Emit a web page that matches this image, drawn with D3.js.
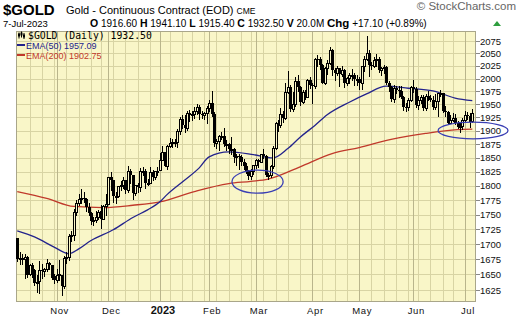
<!DOCTYPE html>
<html>
<head>
<meta charset="utf-8">
<script src="https://cdn.jsdelivr.net/npm/d3@7"></script>
<style>
  body { margin: 0; background: #fff; }
  svg { display: block; font-family: "Liberation Sans", Arial, sans-serif; }
</style>
</head>
<body>
<div id="chart"></div>
<script>
// exchange holidays inside the window (no bars on these days)
const holidays = ["2022-11-24", "2022-12-26", "2023-01-02", "2023-01-16", "2023-02-20",
  "2023-04-07", "2023-05-29", "2023-06-19", "2023-07-04"];

// daily OHLC, 10-Oct-2022 .. 7-Jul-2023 (one line per month)
const opens = [
  1709,1675,1676,1675,1677,1650,1664,1656,1636,1638,1656,1655,1658,1668,1664,1646,
  1640,1649,1648,1630,1677,1677,1713,1715,1754,1769,1776,1778,1776,1762,1751,1738,1740,1745,1755,1741,1763,
  1768,1815,1809,1781,1781,1798,1800,1810,1792,1825,1818,1787,1800,1797,1825,1826,1804,1804,1823,1815,1826,
  1828,1846,1859,1834,1870,1876,1878,1878,1898,1921,1910,1904,1932,1928,1931,1936,1943,1930,1929,1932,
  1942,1951,1930,1876,1880,1889,1890,1874,1874,1866,1866,1850,1853,1850,1842,1834,1826,1817,1825,
  1836,1845,1842,1856,1853,1818,1819,1835,1867,1913,1910,1931,1923,1973,1982,1941,1949,1995,1983,1954,1973,1964,1997,
  1986,1985,2038,2037,2025,1990,2019,2029,2055,2015,2009,2019,2007,2015,1990,2000,2005,2006,1999,
  1999,1990,2023,2038,2050,2025,2024,2035,2037,2015,2019,2022,1990,1983,1959,1981,1976,1975,1963,1944,1943,1958,
  1982,1978,1948,1958,1964,1942,1965,1962,1957,1944,1955,1970,1971,1936,1934,1914,1919,1923,1914,1907,1908,
  1919,1929,1927,1916.6
];
const highs = [
  1710,1687,1684,1683,1680,1667,1669,1659,1649,1672,1667,1661,1675,1671,1665,1650,
  1659,1673,1649,1680,1687,1717,1722,1759,1775,1785,1795,1789,1778,1770,1754,1745,1756,1757,1767,1766,1786,
  1816,1825,1811,1789,1800,1808,1815,1811,1835,1830,1818,1802,1805,1832,1834,1830,1813,1833,1828,1827,1833,
  1859,1871,1861,1873,1887,1884,1885,1903,1925,1929,1930,1937,1939,1938,1945,1950,1949,1938,1936,1946,
  1959,1975,1935,1884,1893,1898,1905,1882,1878,1888,1869,1858,1857,1855,1848,1840,1828,1830,1837,
  1848,1848,1858,1867,1855,1823,1838,1871,1916,1921,1942,1937,1992,2014,1987,1974,2003,2006,1985,1978,1977,1999,2002,
  1992,2040,2047,2042,2028,2023,2036,2063,2058,2021,2025,2020,2025,2018,2003,2010,2018,2010,2006,
  2002,2025,2045,2085,2057,2032,2042,2048,2042,2023,2027,2025,1995,1985,1987,1985,1985,1985,1965,1953,1962,1985,
  1998,1983,1965,1968,1968,1969,1975,1967,1965,1970,1972,1978,1972,1947,1937,1930,1933,1932,1918,1915,1924,
  1938,1936,1934,1941.1
];
const lows = [
  1670,1666,1665,1642,1645,1648,1645,1631,1621,1618,1643,1646,1654,1658,1641,1635,
  1636,1640,1616,1627,1667,1672,1703,1705,1748,1765,1768,1770,1755,1747,1732,1730,1735,1740,1725,1741,1748,
  1767,1791,1770,1769,1779,1791,1794,1786,1787,1804,1776,1782,1787,1790,1817,1795,1800,1803,1809,1811,1818,
  1828,1845,1833,1828,1868,1868,1870,1868,1893,1903,1896,1900,1917,1919,1923,1930,1920,1922,1920,1913,
  1935,1925,1870,1866,1863,1882,1870,1862,1857,1855,1840,1836,1828,1835,1829,1821,1811,1810,1820,
  1830,1831,1840,1848,1815,1811,1814,1830,1865,1898,1905,1915,1921,1970,1935,1936,1945,1974,1946,1950,1958,1962,1979,
  1950,1980,2022,2016,1990,1988,2007,2027,2005,1996,2005,1983,2002,1981,1985,1990,1995,1985,1985,
  1977,1978,2012,2035,2003,2016,2020,2023,2010,2004,2008,1987,1974,1955,1953,1969,1962,1960,1938,1936,1937,1955,
  1971,1943,1940,1950,1938,1938,1957,1954,1939,1940,1925,1964,1934,1926,1912,1912,1917,1910,1903,1895,1902,
  1915,1920,1905,1915.4
];
const closes = [
  1675,1676,1673,1677,1648,1664,1656,1636,1637,1656,1655,1658,1668,1664,1644,1640,
  1649,1650,1630,1676,1677,1713,1714,1754,1769,1776,1778,1776,1762,1751,1738,1740,1745,1754,1741,1763,1768,
  1815,1809,1781,1781,1798,1800,1810,1792,1825,1818,1787,1800,1797,1825,1826,1804,1804,1823,1815,1826,1826,
  1846,1859,1834,1870,1876,1878,1878,1898,1921,1910,1904,1932,1928,1931,1936,1943,1930,1929,1932,1942,
  1951,1930,1876,1880,1889,1890,1874,1874,1866,1866,1850,1853,1850,1842,1834,1826,1817,1825,1836,
  1845,1842,1856,1853,1818,1819,1835,1867,1913,1910,1931,1923,1973,1982,1941,1949,1995,1983,1954,1973,1964,1997,1986,
  1985,2038,2037,2025,1990,2019,2029,2055,2015,2009,2019,2007,2015,1990,2000,2005,2006,1999,1999,
  1990,2023,2038,2050,2025,2024,2035,2037,2015,2019,2022,1990,1983,1959,1981,1976,1975,1963,1944,1943,1958,1982,
  1978,1948,1958,1964,1942,1965,1962,1957,1944,1955,1970,1971,1936,1934,1914,1919,1923,1914,1907,1908,1919,
  1929,1927,1915.4,1932.5
];
const volumeText = "20.0M";

// moving averages at these bar numbers
const ema50Bars = [0, 7, 15, 21, 25, 30, 39, 47, 53, 58, 61, 68, 74, 78, 86, 96, 104, 110, 115, 121, 126, 135, 142, 150, 159, 169, 178, 185];
const ema50Vals = [1722, 1712, 1695, 1684, 1692, 1706, 1724, 1745, 1758, 1772, 1785, 1810, 1832, 1852, 1861, 1856, 1850, 1867, 1888, 1910, 1930, 1954, 1970, 1985, 1981, 1976, 1962, 1957];
const ema200Bars = [0, 12, 23, 35, 47, 58, 72, 86, 95, 102, 115, 128, 139, 152, 166, 179, 185];
const ema200Vals = [1790, 1778, 1764, 1762, 1766, 1772, 1790, 1804, 1808, 1812, 1834, 1858, 1869, 1884, 1895, 1902, 1903];

// hand-drawn ellipses: centre bar, half width in bars, top / bottom price
const circleBars = [97.7, 185.3];
const circleHalfBars = [10.4, 14.2];
const circleTops = [1828, 1916];
const circleBottoms = [1787, 1885];

const yTicks = d3.range(1625, 2076, 25);
const monthNames = ["Nov", "Dec", "2023", "Feb", "Mar", "Apr", "May", "Jun", "Jul"];

const W = 520, H = 318;
const plot = { left: 16, right: 476, top: 31, bottom: 302 };
const bg = "#f9f6c8", grid = "#d8d4a4", gridMonth = "#b9b58c";

// trading days
const fmt = d3.timeFormat("%Y-%m-%d");
const days = [];
for (let d = new Date(2022, 9, 10); d <= new Date(2023, 6, 7); d.setDate(d.getDate() + 1)) {
  const wd = d.getDay();
  if (wd === 0 || wd === 6 || holidays.includes(fmt(d))) continue;
  days.push(new Date(d));
}
const n = Math.min(days.length, closes.length);
const bars = d3.range(n).map(i => ({ i, date: days[i], o: opens[i], h: highs[i], l: lows[i], c: closes[i] }));

const x = d3.scaleLinear().domain([-0.5, n + 0.5]).range([plot.left, plot.right]);
const y = d3.scaleLog().domain([1606, 2095.5]).range([plot.bottom, plot.top]);

const svg = d3.select("#chart").append("svg").attr("width", W).attr("height", H);

svg.append("rect").attr("x", plot.left).attr("y", plot.top)
  .attr("width", plot.right - plot.left).attr("height", plot.bottom - plot.top)
  .attr("fill", bg);

// week and month starts
const weekStarts = bars.filter((b, i) => i > 0 && d3.timeMonday.floor(b.date) > bars[i - 1].date);
const monthStarts = bars.filter((b, i) => i > 0 && b.date.getMonth() !== bars[i - 1].date.getMonth());

const gridG = svg.append("g").attr("shape-rendering", "crispEdges");
gridG.selectAll(".hg").data(yTicks).enter().append("line")
  .attr("x1", plot.left).attr("x2", plot.right)
  .attr("y1", d => Math.round(y(d)) + 0.5).attr("y2", d => Math.round(y(d)) + 0.5)
  .attr("stroke", grid);
gridG.selectAll(".wg").data(weekStarts).enter().append("line")
  .attr("x1", d => Math.round(x(d.i)) + 0.5).attr("x2", d => Math.round(x(d.i)) + 0.5)
  .attr("y1", plot.top).attr("y2", plot.bottom)
  .attr("stroke", grid);
gridG.selectAll(".mg").data(monthStarts).enter().append("line")
  .attr("x1", d => Math.round(x(d.i)) + 0.5).attr("x2", d => Math.round(x(d.i)) + 0.5)
  .attr("y1", plot.top).attr("y2", plot.bottom)
  .attr("stroke", gridMonth);

svg.append("rect").attr("x", plot.left + 0.5).attr("y", plot.top + 0.5)
  .attr("width", plot.right - plot.left - 1).attr("height", plot.bottom - plot.top - 1)
  .attr("fill", "none").attr("stroke", "#a9a68a").attr("shape-rendering", "crispEdges");

// y axis on the right
const yAxis = svg.append("g");
yAxis.selectAll("line").data(yTicks).enter().append("line")
  .attr("x1", plot.right).attr("x2", plot.right + 4)
  .attr("y1", d => Math.round(y(d)) + 0.5).attr("y2", d => Math.round(y(d)) + 0.5)
  .attr("stroke", "#888").attr("shape-rendering", "crispEdges");
yAxis.selectAll("text").data(yTicks).enter().append("text")
  .attr("x", plot.right + 4).attr("y", d => y(d) + 3.5)
  .attr("font-size", 9.5).attr("fill", "#111").text(d => d);

// month labels
svg.append("g").selectAll("text").data(monthStarts).enter().append("text")
  .attr("x", d => x(d.i) + 3).attr("y", 314)
  .attr("text-anchor", "middle")
  .attr("font-size", d => d.date.getMonth() === 0 ? 11 : 9.5)
  .attr("font-weight", d => d.date.getMonth() === 0 ? "bold" : "normal")
  .attr("letter-spacing", d => d.date.getMonth() === 0 ? 0 : 0.6)
  .attr("fill", "#111")
  .text((d, k) => monthNames[k]);

// moving averages
const ema = (bs, vs) => bs.map((b, k) => ({ i: b, v: vs[k] }));
const line = d3.line().x(d => x(d.i)).y(d => y(d.v)).curve(d3.curveMonotoneX);
svg.append("path").datum(ema(ema200Bars, ema200Vals)).attr("d", line)
  .attr("fill", "none").attr("stroke", "#c0392b").attr("stroke-width", 1.3);
svg.append("path").datum(ema(ema50Bars, ema50Vals)).attr("d", line)
  .attr("fill", "none").attr("stroke", "#23238c").attr("stroke-width", 1.3);

// candlesticks
const candles = svg.append("g").attr("shape-rendering", "crispEdges");
const cx = d => Math.round(x(d.i));
candles.selectAll(".wick").data(bars).enter().append("line")
  .attr("x1", d => cx(d) + 0.5).attr("x2", d => cx(d) + 0.5)
  .attr("y1", d => y(d.h)).attr("y2", d => y(d.l))
  .attr("stroke", "#000");
candles.selectAll(".body").data(bars).enter().append("rect")
  .attr("x", d => d.c >= d.o ? cx(d) - 0.5 : cx(d) - 1)
  .attr("width", d => d.c >= d.o ? 2 : 3)
  .attr("y", d => y(Math.max(d.o, d.c)) - (d.c >= d.o ? 0 : 0.5))
  .attr("height", d => Math.max(1, Math.abs(y(d.o) - y(d.c))))
  .attr("fill", d => d.c >= d.o ? bg : "#000")
  .attr("stroke", d => d.c >= d.o ? "#000" : "none");

// annotations
svg.append("g").selectAll("ellipse").data(circleBars).enter().append("ellipse")
  .attr("cx", d => x(d))
  .attr("cy", (d, k) => (y(circleTops[k]) + y(circleBottoms[k])) / 2)
  .attr("rx", (d, k) => x(d + circleHalfBars[k]) - x(d))
  .attr("ry", (d, k) => (y(circleBottoms[k]) - y(circleTops[k])) / 2)
  .attr("fill", "none").attr("stroke", "#3a3fb4").attr("stroke-width", 1.3);

// legend inside the plot
const leg = svg.append("g");
const icon = [[19, 32.5, 38.5, 33.5, 36.5], [21.5, 31.5, 37.5, 32.5, 35.5], [24, 33, 39, 34.5, 37.5]];
icon.forEach(([ix, t, b, bt, bb]) => {
  leg.append("line").attr("x1", ix).attr("x2", ix).attr("y1", t).attr("y2", b).attr("stroke", "#000");
  leg.append("rect").attr("x", ix - 1).attr("y", bt).attr("width", 2).attr("height", bb - bt).attr("fill", "#000");
});
leg.append("text").attr("x", 28).attr("y", 38.5)
  .attr("font-family", "'DejaVu Sans Mono', 'Liberation Mono', monospace").attr("font-size", 9.8)
  .attr("fill", "#000").text("$GOLD (Daily) " + d3.format(".2f")(closes[n - 1]));
[["EMA(50) 1957.09", "#23238c", 45], ["EMA(200) 1902.75", "#c0392b", 55]].forEach(([t, col, ly]) => {
  leg.append("line").attr("x1", 17).attr("x2", 25).attr("y1", ly).attr("y2", ly)
    .attr("stroke", col).attr("stroke-width", 2);
  leg.append("text").attr("x", 26).attr("y", ly + 4).attr("font-size", 9)
    .attr("fill", col).text(t);
});

// header
svg.append("text").attr("x", 3).attr("y", 15)
  .attr("font-size", 15).attr("font-weight", "bold").attr("fill", "#000").text("$GOLD");
svg.append("text").attr("x", 66).attr("y", 14)
  .attr("font-size", 11).attr("fill", "#000")
  .text("Gold - Continuous Contract (EOD)")
  .append("tspan").attr("dx", 3).attr("font-size", 8.5).text("CME");
svg.append("text").attr("x", 516).attr("y", 10).attr("text-anchor", "end")
  .attr("font-size", 11.5).attr("fill", "#666").text("\u00A9 StockCharts.com");
svg.append("text").attr("x", 3).attr("y", 27).attr("font-size", 9.5).attr("fill", "#000").text("7-Jul-2023");

const quote = svg.append("text").attr("x", 90).attr("y", 27).attr("font-size", 10).attr("fill", "#000");
const last = bars[n - 1], prev = bars[n - 2];
const chg = last.c - prev.c;
[["O", " " + d3.format(".2f")(last.o) + " "], ["H", " " + d3.format(".2f")(last.h) + " "],
 ["L", " " + d3.format(".2f")(last.l) + " "], ["C", " " + d3.format(".2f")(last.c) + " "],
 ["V", " " + volumeText + " "], ["Chg", " +" + d3.format(".2f")(chg) + " (+" + d3.format(".2f")(chg / prev.c * 100) + "%)"]]
  .forEach(([k, v]) => {
    quote.append("tspan").attr("font-weight", "bold").attr("font-size", k === "Chg" ? 11.5 : 10.5).text(k);
    quote.append("tspan").attr("xml:space", "preserve").text(v);
  });
svg.append("path").attr("d", "M493,26 L497,21 L501,26 Z").attr("fill", "#2e9e3e");
</script>
</body>
</html>
